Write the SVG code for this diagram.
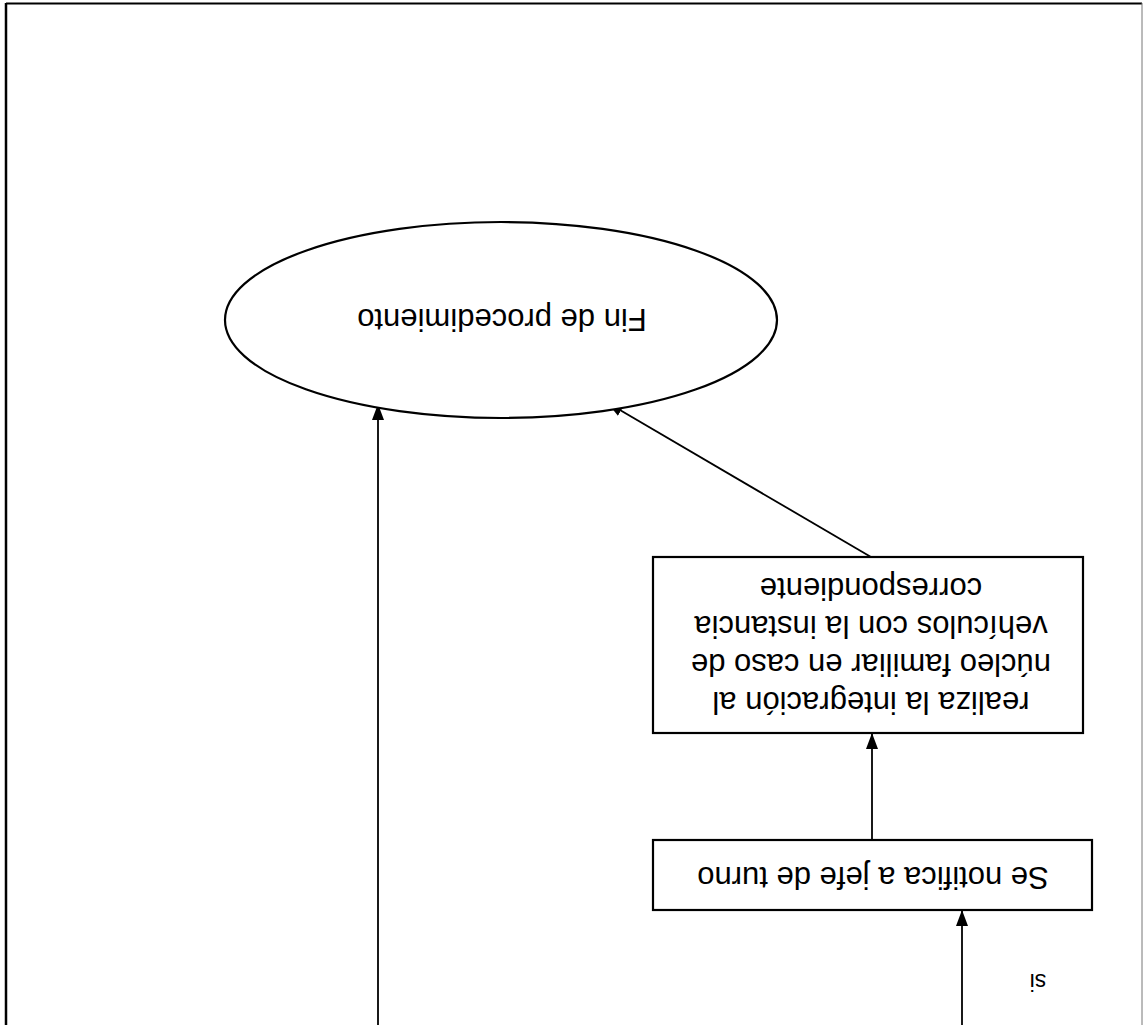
<svg xmlns="http://www.w3.org/2000/svg" width="1143" height="1025" viewBox="0 0 1143 1025">
<style>
.shape{fill:#fff;stroke:#000;stroke-width:2.2}
.lbl{font-family:"Liberation Sans",Arial,sans-serif;font-size:31px;fill:#000;text-anchor:middle}
.edge{stroke:#000;stroke-width:1.8;fill:none;marker-end:url(#ah)}
</style>
<defs>
<marker id="ah" viewBox="0 0 16 12" refX="15" refY="6" markerWidth="16" markerHeight="12" markerUnits="userSpaceOnUse" orient="auto">
<path d="M0,0 L16,6 L0,12 z" fill="#000"/>
</marker>
</defs>
<rect width="1143" height="1025" fill="#fff"/>
<g id="frame">
<line x1="6" y1="3.5" x2="1142" y2="3.5" stroke="#000" stroke-width="2"/>
<line x1="6" y1="3" x2="6" y2="1025" stroke="#000" stroke-width="2.5"/>
<line x1="1142" y1="3" x2="1142" y2="1025" stroke="#777" stroke-width="1"/>
</g>
<g id="connectors">
<line class="edge" x1="962" y1="1025" x2="962" y2="911"/>
<line class="edge" x1="872" y1="840" x2="872" y2="734"/>
<line class="edge" x1="871" y1="557" x2="608" y2="403"/>
<line class="edge" x1="378" y1="1025" x2="378" y2="405"/>
<text class="lbl" style="font-size:23px" x="1038" y="990" transform="rotate(180 1038 982)">si</text>
</g>
<g id="node-fin">
<ellipse class="shape" cx="501" cy="320" rx="276" ry="98"/>
<text class="lbl" x="502" y="331" transform="rotate(180 502 320)">Fin de procedimiento</text>
</g>
<g id="node-integracion">
<rect class="shape" x="653" y="557" width="430" height="176"/>
<g transform="rotate(180 871 645)">
<text class="lbl" x="871" y="598">realiza la integración al</text>
<text class="lbl" x="871" y="636">núcleo familiar en caso de</text>
<text class="lbl" x="871" y="674">vehículos con la instancia</text>
<text class="lbl" x="871" y="712">correspondiente</text>
</g>
</g>
<g id="node-notifica">
<rect class="shape" x="653" y="840" width="439" height="70"/>
<text class="lbl" x="873" y="883" transform="rotate(180 873 875)">Se notifica a jefe de turno</text>
</g>
</svg>
